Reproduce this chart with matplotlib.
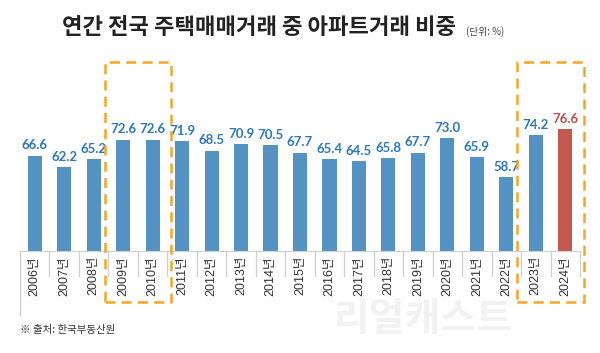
import matplotlib.pyplot as plt
import matplotlib.transforms as mtransforms
from matplotlib.patches import Rectangle

plt.rcParams['font.family'] = ['Noto Sans CJK KR', 'DejaVu Sans']

years = ['2006년', '2007년', '2008년', '2009년', '2010년', '2011년', '2012년',
         '2013년', '2014년', '2015년', '2016년', '2017년', '2018년', '2019년',
         '2020년', '2021년', '2022년', '2023년', '2024년']
share = [66.6, 62.2, 65.2, 72.6, 72.6, 71.9, 68.5, 70.9, 70.5, 67.7,
         65.4, 64.5, 65.8, 67.7, 73.0, 65.9, 58.7, 74.2, 76.6]
highlight_groups = [(3, 4), (17, 18)]

W, H = 600, 353
fig = plt.figure(figsize=(W / 100, H / 100), dpi=100)
fig.patch.set_facecolor('white')

# axes: x 20..580 px, baseline at y=251 px, top at y=40 px
ax = fig.add_axes([20 / W, (H - 251) / H, 560 / W, 211 / H])
ax.set_xlim(-0.5, len(years) - 0.5)
ax.set_ylim(31, 31 + 211 / 2.68)

blue = '#5592c4'
red = '#c45a4f'
colors = [blue] * (len(years) - 1) + [red]
x = list(range(len(years)))
bars = ax.bar(x, share, width=0.48, color=colors, zorder=2)

for i, (b, v) in enumerate(zip(bars, share)):
    tc = '#c0504d' if i == len(years) - 1 else '#2b78bc'
    ax.annotate(f'{v:.1f}', (b.get_x() + b.get_width() / 2, v),
                xytext=(0, 3), textcoords='offset points',
                ha='center', va='bottom', fontsize=9.5, fontweight='bold',
                color=tc, family=['Lato', 'DejaVu Sans'])

for s in ['top', 'right', 'left']:
    ax.spines[s].set_visible(False)
ax.spines['bottom'].set_color('#cfcfcf')
ax.set_yticks([])
ax.set_xticks([])

# label "table" under the bars
trans = mtransforms.blended_transform_factory(ax.transData, ax.transAxes)
px = 1 / 211  # one pixel in axes-y units
for i in range(len(years) + 1):
    bottom = -64 * px if i == 0 else -25 * px
    ax.plot([i - 0.5, i - 0.5], [0, bottom], transform=trans,
            color='#cfcfcf', lw=0.9, clip_on=False)
for i, lab in enumerate(years):
    ax.text(i, -5 * px, lab, transform=trans, rotation=90,
            ha='center', va='top', fontsize=9, color='#333333',
            family=['Liberation Sans', 'Noto Sans CJK KR'])

# dashed highlight boxes
for a, b in highlight_groups:
    rect = Rectangle((a - 0.63, -51 * px), (b - a) + 1.26, 240 * px,
                     transform=trans, fill=False, edgecolor='#f5a623',
                     lw=1.8, ls=(0, (4, 2.5)), clip_on=False, zorder=3)
    ax.add_patch(rect)

fig.text(259 / W, 1 - 27 / H, '연간 전국 주택매매거래 중 아파트거래 비중',
         ha='center', va='center', fontsize=16, fontweight='bold',
         color='#222222')
fig.text(466 / W, 1 - 32 / H, '(단위: %)', ha='left', va='center',
         fontsize=7, color='#444444')
fig.text(20 / W, 1 - 330 / H, '※ 출처: 한국부동산원', ha='left', va='center',
         fontsize=7.5, color='#333333')
fig.text(512 / W, 1 - 320 / H, '리얼캐스트', ha='right', va='center',
         fontsize=28, fontweight='bold', color='#f2f2f2', zorder=0)

fig.savefig('out.png', dpi=100, facecolor='white')
